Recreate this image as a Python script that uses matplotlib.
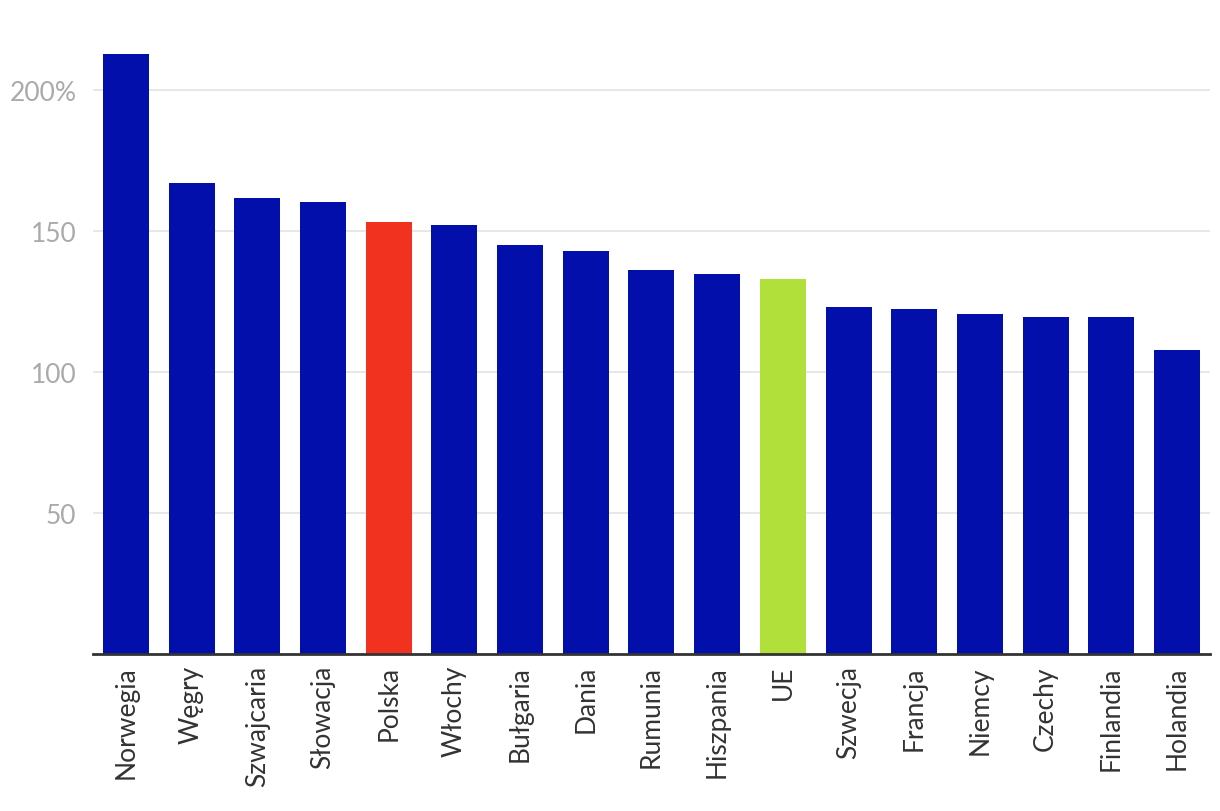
import matplotlib

matplotlib.use("Agg")
import matplotlib.pyplot as plt

# values (% of ...)
countries = ["Norwegia", "Węgry", "Szwajcaria", "Słowacja", "Polska", "Włochy",
             "Bułgaria", "Dania", "Rumunia", "Hiszpania", "UE", "Szwecja",
             "Francja", "Niemcy", "Czechy", "Finlandia", "Holandia"]
values = [212.8, 167.0, 161.7, 160.3, 153.2, 152.1, 145.0, 142.9, 136.2,
          134.8, 133.0, 123.0, 122.3, 120.6, 119.5, 119.5, 107.8]
ytick_vals = [50, 100, 150, 200]
ytick_labels = ["50", "100", "150", "200%"]

BLUE = "#020fab"
RED = "#f0321e"
GREEN = "#b2e03a"
highlight = {"Polska": RED, "UE": GREEN}
colors = [highlight.get(c, BLUE) for c in countries]

plt.rcParams["font.family"] = ["Lato", "DejaVu Sans"]

fig = plt.figure(figsize=(12.2, 8.12), dpi=100)
ax = fig.add_axes([0.0762, 0.1934, 0.9156, 0.757])

x = range(len(countries))
ax.bar(x, values, width=0.7, color=colors, zorder=3)

ax.set_xlim(-0.5, len(countries) - 0.5)
ax.set_ylim(0, 218)
ax.set_yticks(ytick_vals)
ax.set_yticklabels(ytick_labels)
ax.set_xticks(list(x))
ax.set_xticklabels(countries, rotation=90)

ax.grid(axis="y", color="#e3e3e3", linewidth=1.2, zorder=0)
for side in ("top", "right", "left"):
    ax.spines[side].set_visible(False)
ax.spines["bottom"].set_color("#333333")
ax.spines["bottom"].set_linewidth(2)
ax.spines["bottom"].set_zorder(4)

ax.tick_params(axis="y", length=0, pad=12, labelsize=19, labelcolor="#aaaaaa")
ax.tick_params(axis="x", length=0, pad=8, labelsize=19, labelcolor="#333333")

fig.savefig("out.png", dpi=100)
